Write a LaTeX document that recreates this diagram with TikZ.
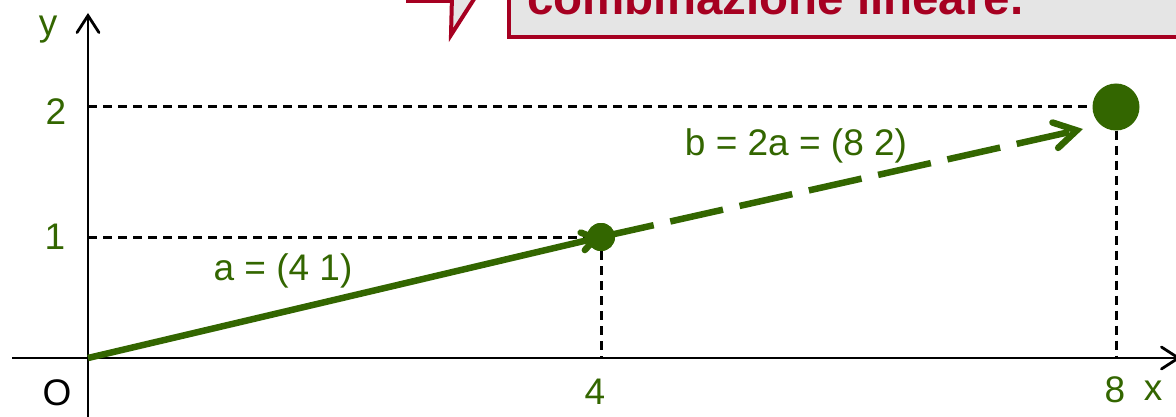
\documentclass[tikz,border=0pt]{standalone}
\usepackage{fontspec}
\setmainfont{Liberation Sans}
\usetikzlibrary{arrows.meta}
\definecolor{vgreen}{RGB}{51,102,0}
\definecolor{vred}{RGB}{166,0,33}
\definecolor{vgrey}{RGB}{229,229,229}
\begin{document}
\begin{tikzpicture}[x=1pt,y=-1pt,
  axisline/.style={line width=2.8pt,black},
  guide/.style={line width=3pt,black,dash pattern=on 9pt off 6pt},
  lbl/.style={text=vgreen,font=\fontsize{37}{42}\selectfont,inner sep=0pt},
  vecline/.style={line width=6.5pt,vgreen},
  dotnode/.style={circle,fill=vgreen,inner sep=0pt,minimum size=#1},
  calloutline/.style={draw=vred,line width=4pt}
]
\useasboundingbox (0,0) rectangle (1176,417);
\clip (0,0) rectangle (1176,417);
% coordinates
\coordinate (O) at (88,358);
\coordinate (xs) at (12,358);
\coordinate (xe) at (1181,358);
\coordinate (yb) at (88,425);
\coordinate (ye) at (88,13);
\coordinate (A) at (601,237);
\coordinate (Bt) at (1083,129);
% callout pieces
\coordinate (w1) at (452,-4);
\coordinate (w2) at (451,35);
\coordinate (w3) at (476,-4);
\coordinate (h1) at (406,1);
\coordinate (h2) at (452,1);
\fill[vgrey] (w1) -- (w2) -- (w3) -- cycle;
\draw[calloutline,line join=miter] (w1) -- (w2) -- (w3);
\draw[calloutline] (h1) -- (h2);
\draw[calloutline,fill=vgrey] (509,-20) rectangle (1200,37);
\node[anchor=base west,text=vred,inner sep=0pt,
      font=\bfseries\fontsize{47.5}{52}\selectfont] (ct) at (527,15) {combinazione lineare.};
% axes
\draw[axisline,-{Straight Barb[length=17pt,width=22pt,line cap=round]}] (xs) -- (xe);
\draw[axisline,-{Straight Barb[length=17pt,width=22pt,line cap=round]}] (yb) -- (ye);
% dots
\node[dotnode=28pt] (a) at (A) {};
\node[dotnode=47pt] (b) at (1116,107) {};
% guides
\draw[guide] (O |- b) -- (b.west);
\draw[guide] (O |- a) -- (a.west);
\draw[guide] (a.south) -- (a |- O);
\draw[guide] (b.south) -- (b |- O);
% vectors
\draw[vecline,-{Straight Barb[length=13pt,width=18pt,line cap=round]}] (O) -- (a.center);
\draw[vecline,dash pattern=on 54pt off 17pt,-{Straight Barb[length=22pt,width=26pt,line cap=round]}] (a.center) -- (Bt);
\node[dotnode=28pt] (a2) at (A) {};
% labels
\node[lbl] (ly) at (48,30) {y};
\node[lbl] (l2) at (56,112) {2};
\node[lbl] (l1) at (55,237) {1};
\node[lbl,text=black] (lO) at (57,393) {O};
\node[lbl] (l4) at (595,392) {4};
\node[lbl] (l8) at (1115,390) {8};
\node[lbl] (lx) at (1153,391) {x};
\node[lbl] (la) at (283,271) {a = (4 1)};
\node[lbl] (lb) at (796,146) {b = 2a = (8 2)};
\end{tikzpicture}
\end{document}
